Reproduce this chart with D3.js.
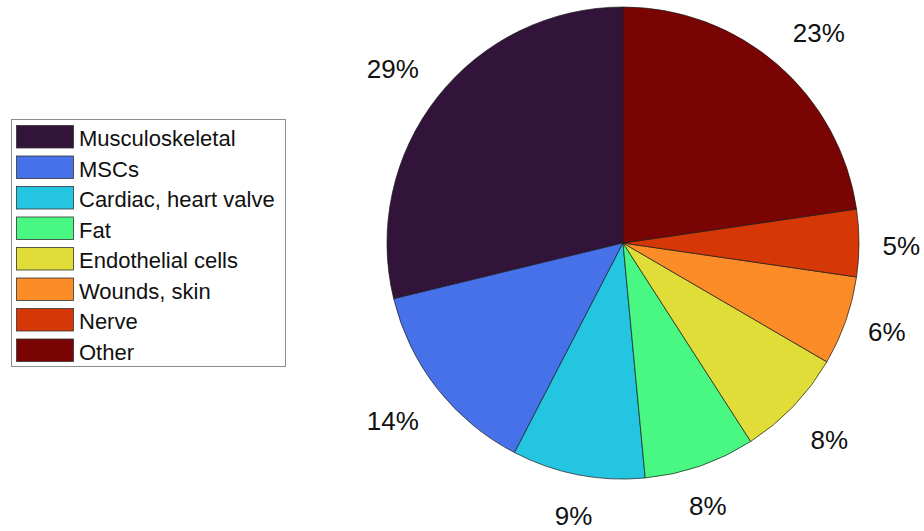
<!DOCTYPE html>
<html>
<head>
<meta charset="utf-8">
<script src="https://cdn.jsdelivr.net/npm/d3@7"></script>
<style>
  html, body { margin: 0; padding: 0; background: #fff; }
  svg { display: block; font-family: "Liberation Sans", Arial, sans-serif; }
</style>
</head>
<body>
<svg id="chart" width="924" height="531"></svg>
<script>
// Share of applications by tissue / cell type (percent)
const categories = ["Musculoskeletal", "MSCs", "Cardiac, heart valve", "Fat",
                    "Endothelial cells", "Wounds, skin", "Nerve", "Other"];
const shares = [28.8, 13.6, 9.1, 7.6, 7.5, 6.1, 4.6, 22.7];
const sliceColors = ["#32133a", "#4671e8", "#23c5e0", "#48f883",
                     "#e0dc38", "#fc8c28", "#d53806", "#7a0403"];

const svg = d3.select("#chart");
const cx = 623, cy = 243, R = 236;

const color = d3.scaleOrdinal().domain(categories).range(sliceColors);
const total = d3.sum(shares);
const data = categories.map((c, i) => ({ name: c, value: shares[i] }));

// Slices run counter-clockwise starting from 12 o'clock
const pie = d3.pie()
  .value(d => d.value)
  .sort(null)
  .startAngle(0)
  .endAngle(-2 * Math.PI);

const arc = d3.arc().innerRadius(0).outerRadius(R);
const arcs = pie(data);

const g = svg.append("g").attr("transform", `translate(${cx},${cy})`);

g.selectAll("path.slice")
  .data(arcs)
  .join("path")
  .attr("class", "slice")
  .attr("d", arc)
  .attr("fill", d => color(d.data.name))
  .attr("stroke", "#1a1a1a")
  .attr("stroke-width", 0.7)
  .attr("stroke-linejoin", "round");

// Percentage labels: anchored at 1.1 x radius on the slice bisector,
// aligned away from the pie depending on the quadrant
const fs = 26;
const labelR = R * 1.1;
g.selectAll("text.pct")
  .data(arcs)
  .join("text")
  .attr("class", "pct")
  .each(function(d) {
    const a = (d.startAngle + d.endAngle) / 2;   // d3 angle: 0 at top, clockwise
    const ux = Math.sin(a), uy = -Math.cos(a);   // screen direction
    const px = labelR * ux, py = labelR * uy;
    const anchor = Math.abs(ux) < 0.5 ? "middle" : (ux > 0 ? "start" : "end");
    let dy;
    if (Math.abs(uy) < 0.5) dy = fs * 0.12;       // middle
    else if (uy > 0) dy = fs * 0.69;              // below the pie: top-aligned
    else dy = -fs * 0.54;                         // above the pie: bottom-aligned
    d3.select(this)
      .attr("x", px)
      .attr("y", py + dy)
      .attr("text-anchor", anchor);
  })
  .attr("dominant-baseline", "central")
  .attr("font-size", fs)
  .attr("fill", "#111")
  .text(d => Math.round(d.data.value / total * 100) + "%");

// Legend
const lg = svg.append("g").attr("transform", "translate(11,119)");
const rowH = 30.5;
lg.append("rect")
  .attr("x", 0.5).attr("y", 0.5)
  .attr("width", 274).attr("height", 247)
  .attr("fill", "#fff")
  .attr("stroke", "#8c8c8c")
  .attr("stroke-width", 1);

const rows = lg.selectAll("g.row")
  .data(categories)
  .join("g")
  .attr("class", "row")
  .attr("transform", (d, i) => `translate(0,${6.5 + i * rowH})`);

rows.append("rect")
  .attr("x", 5.5).attr("y", 0)
  .attr("width", 57).attr("height", 22.5)
  .attr("fill", d => color(d))
  .attr("stroke", "#333")
  .attr("stroke-width", 0.8);

rows.append("text")
  .attr("x", 68)
  .attr("y", 20.5)
  .attr("font-size", 22)
  .attr("fill", "#111")
  .text(d => d);
</script>
</body>
</html>
